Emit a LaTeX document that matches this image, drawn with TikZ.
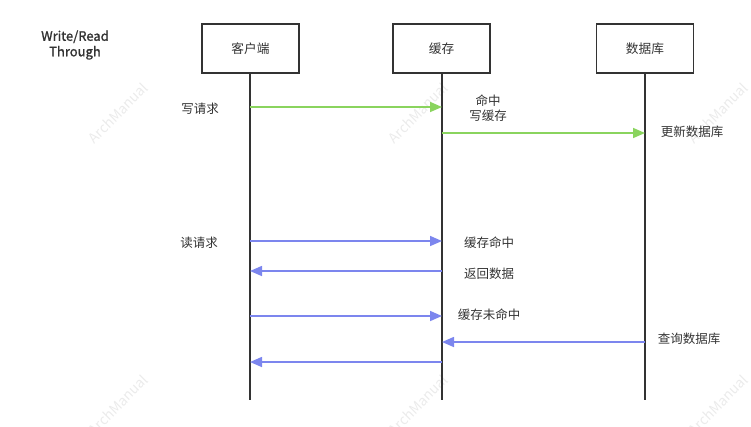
\documentclass[tikz,border=0pt]{standalone}
\usepackage{fontspec}
\setmainfont{Noto Sans CJK SC}
\newfontfamily\titlefont[FakeBold=1.3]{Noto Sans CJK SC}
\usetikzlibrary{arrows.meta}
\definecolor{gline}{HTML}{8AD45E}
\definecolor{bline}{HTML}{7C86EE}
\definecolor{dk}{HTML}{333333}
\definecolor{wm}{HTML}{EBEBEB}
\tikzset{
  actor/.style={draw=dk, line width=1.3pt, minimum width=97pt, minimum height=49pt, inner sep=0pt, text=dk, font=\fontsize{12.7}{15}\selectfont},
  life/.style={draw=dk, line width=1.1pt},
  garrow/.style={draw=gline, line width=1.6pt, -{Triangle[length=12pt,width=10pt]}},
  barrow/.style={draw=bline, line width=1.6pt, -{Triangle[length=12pt,width=10pt]}},
  lbl/.style={text=dk, inner sep=0pt, font=\fontsize{12.5}{15.5}\selectfont},
  wmark/.style={text=wm, rotate=45, font=\fontsize{14}{16}\selectfont}
}
\begin{document}
\begin{tikzpicture}[x=1pt,y=-1pt]
\useasboundingbox (0,0) rectangle (751,426);
\clip (0,0) rectangle (751,426);
% watermarks
\foreach \xx in {118,418,718}{
  \node[wmark] at (\xx,113) {ArchManual};
  \node[wmark] at (\xx,405) {ArchManual};
}
% title
\node[lbl, align=center, font=\titlefont\fontsize{13}{15.5}\selectfont] (title) at (75,45) {Write/Read\\Through};
% actors
\node[actor] (client) at (250.5,48.5) {客户端};
\node[actor] (cache) at (441.5,48.5) {缓存};
\node[actor] (db) at (645,48.5) {数据库};
% lifeline ends
\coordinate (ce) at (250,400);
\coordinate (ke) at (442,400);
\coordinate (de) at (645,400);
\draw[life] (client.south -| 250,0) -- (ce);
\draw[life] (cache.south -| 442,0) -- (ke);
\draw[life] (db.south -| 645,0) -- (de);
% message anchors
\coordinate (c1) at (250,107); \coordinate (k1) at (442,107);
\coordinate (k2) at (442,133); \coordinate (d2) at (645,133);
\coordinate (c3) at (250,241); \coordinate (k3) at (442,241);
\coordinate (k4) at (442,271); \coordinate (c4) at (250,271);
\coordinate (c5) at (250,316); \coordinate (k5) at (442,316);
\coordinate (d6) at (645,342); \coordinate (k6) at (442,342);
\coordinate (k7) at (442,362); \coordinate (c7) at (250,362);
\draw[garrow] (c1) -- (k1);
\draw[garrow] (k2) -- (d2);
\draw[barrow] (c3) -- (k3);
\draw[barrow] (k4) -- (c4);
\draw[barrow] (c5) -- (k5);
\draw[barrow] (d6) -- (k6);
\draw[barrow] (k7) -- (c7);
% labels
\node[lbl] (l1) at (200,109) {写请求};
\node[lbl, align=center] (l2) at (488,108) {命中\\写缓存};
\node[lbl] (l3) at (692,132) {更新数据库};
\node[lbl] (l4) at (199,243) {读请求};
\node[lbl] (l5) at (489,243) {缓存命中};
\node[lbl] (l6) at (489,274) {返回数据};
\node[lbl] (l7) at (489,315) {缓存未命中};
\node[lbl] (l8) at (689,339) {查询数据库};
\end{tikzpicture}
\end{document}
